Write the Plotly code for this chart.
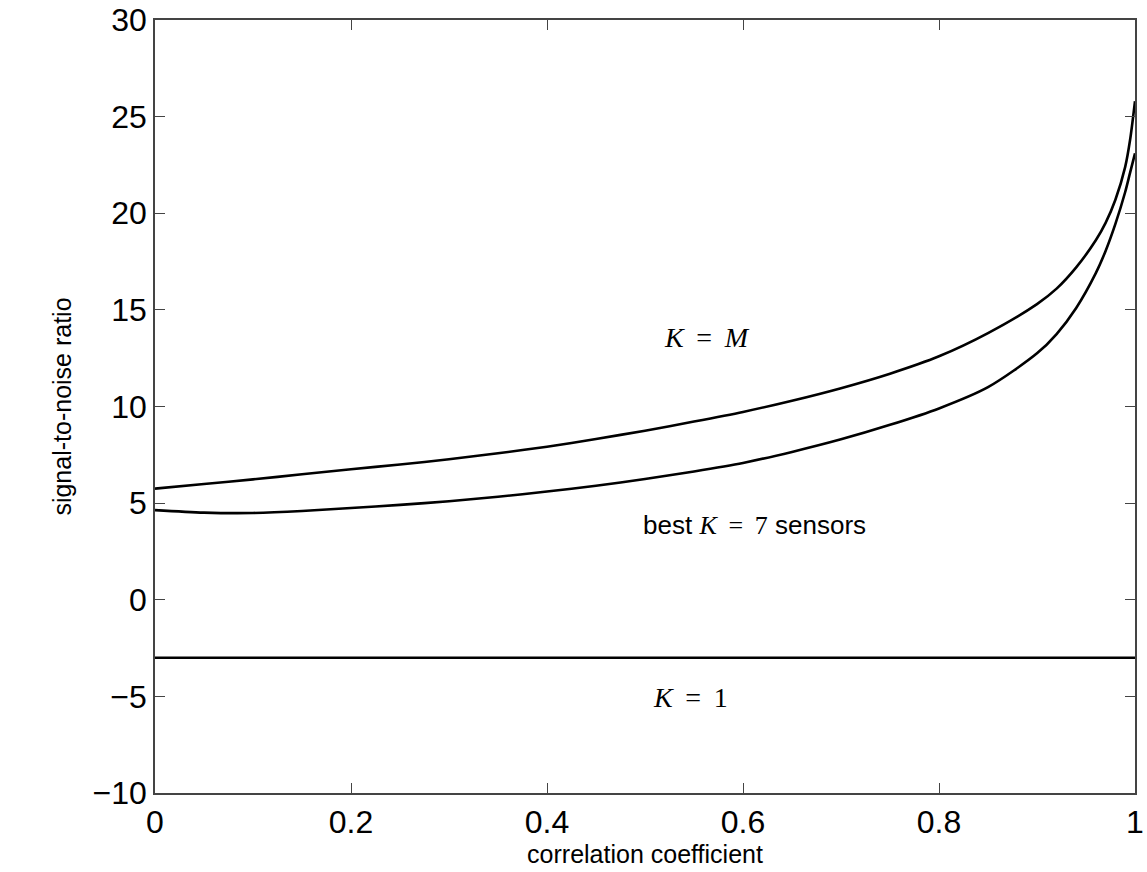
import plotly.graph_objects as go

# correlation coefficient sample points
rho = [0, 0.05, 0.1, 0.15, 0.2, 0.25, 0.3, 0.35, 0.4, 0.45, 0.5, 0.55, 0.6, 0.65, 0.7,
       0.75, 0.8, 0.85, 0.9, 0.92, 0.94, 0.96, 0.97, 0.98, 0.99, 0.995, 1.0]

# K = M (all sensors)
snr_km = [5.75, 5.99, 6.23, 6.49, 6.75, 7.0, 7.27, 7.58, 7.92, 8.32, 8.75, 9.22, 9.72,
          10.3, 10.95, 11.7, 12.6, 13.8, 15.3, 16.1, 17.2, 18.6, 19.5, 20.7, 22.4, 23.8, 25.8]

# best K = 7 sensors
snr_k7 = [4.64, 4.51, 4.49, 4.59, 4.75, 4.91, 5.1, 5.33, 5.6, 5.9, 6.25, 6.64, 7.08,
          7.65, 8.3, 9.05, 9.9, 11.0, 12.75, 13.75, 15.1, 16.9, 18.05, 19.45, 21.1, 22.1, 23.1]

# K = 1
rho_k1 = [0, 1]
snr_k1 = [-3, -3]

x_ticks = [0, 0.2, 0.4, 0.6, 0.8, 1]
x_ticklabels = ["0", "0.2", "0.4", "0.6", "0.8", "1"]
y_ticks = [-10, -5, 0, 5, 10, 15, 20, 25, 30]

serif = "'Liberation Serif', 'Times New Roman', serif"
sans = "'Liberation Sans', Arial, Helvetica, sans-serif"

fig = go.Figure()
for xs, ys in [(rho, snr_km), (rho, snr_k7), (rho_k1, snr_k1)]:
    fig.add_trace(go.Scatter(x=xs, y=ys, mode="lines",
                             line=dict(color="black", width=2.6, shape="spline", smoothing=0.8),
                             showlegend=False, hoverinfo="skip"))

axis_common = dict(showline=True, linecolor="#444", linewidth=1.5, mirror="ticks",
                   ticks="inside", ticklen=10, tickwidth=1, tickcolor="#444",
                   showgrid=False, zeroline=False, automargin=False,
                   tickfont=dict(family=sans, size=32, color="black"))

fig.update_xaxes(range=[0, 1], tickvals=x_ticks, ticktext=x_ticklabels,
                 title=dict(text="correlation coefficient", font=dict(family=sans, size=25, color="black"),
                            standoff=4),
                 **axis_common)
fig.update_yaxes(range=[-10, 30], tickvals=y_ticks,
                 title=dict(text="signal-to-noise ratio", font=dict(family=sans, size=25, color="black"),
                            standoff=14),
                 **axis_common)

ts = "&#8201;"
fig.add_annotation(x=0.563, y=13.55, text=f"<i>K</i> {ts}={ts} <i>M</i>", showarrow=False,
                   font=dict(family=serif, size=28, color="black"))
fig.add_annotation(x=0.612, y=3.87,
                   text=(f"best <span style=\"font-family:Liberation Serif\"><i>K</i> {ts}={ts} 7</span> sensors"),
                   showarrow=False, font=dict(family=sans, size=26, color="black"))
fig.add_annotation(x=0.546, y=-5.08, text=f"<i>K</i> {ts}={ts} 1", showarrow=False,
                   font=dict(family=serif, size=28, color="black"))

fig.update_layout(width=1147, height=872, margin=dict(l=155, r=12, t=20, b=79),
                  paper_bgcolor="white", plot_bgcolor="white")

fig.write_html("out.html")
